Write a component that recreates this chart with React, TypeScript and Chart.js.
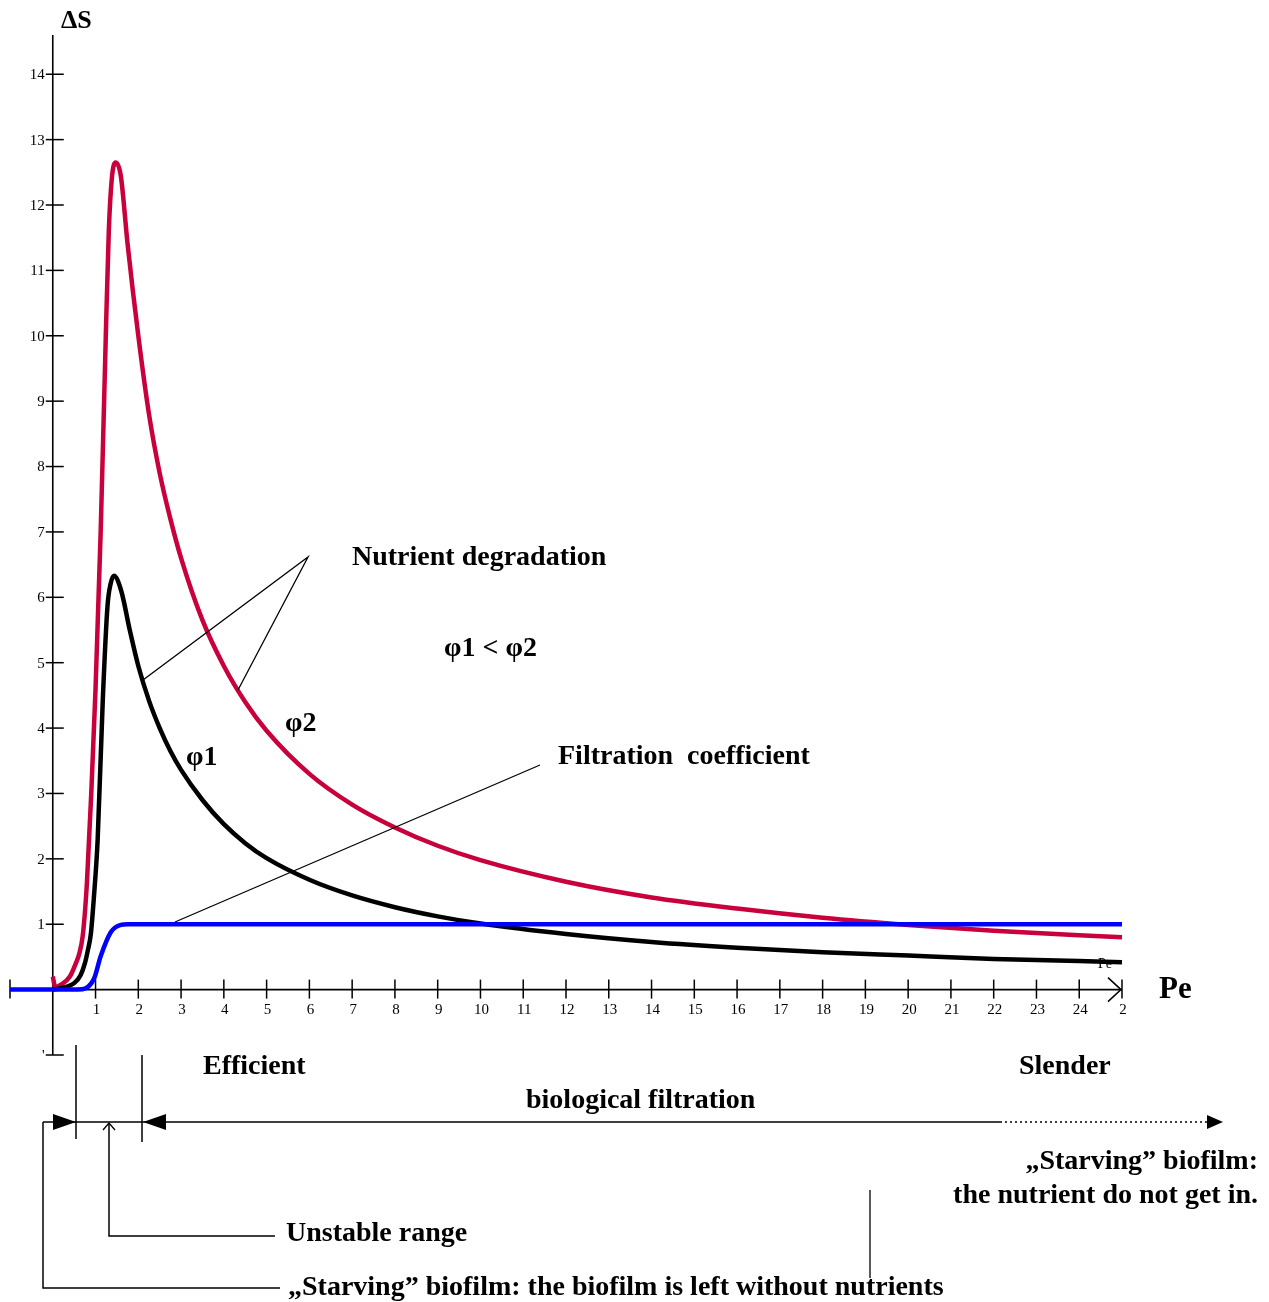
import { useEffect, useRef } from 'react';
import { Chart, registerables } from 'chart.js';

Chart.register(...registerables);

// φ2 curve (red)
const redPe = [0, 0.06, 0.2, 0.4, 0.55, 0.62, 0.7, 0.76, 0.8, 0.9, 1.0, 1.12, 1.24, 1.31, 1.38, 1.47, 1.59, 1.75, 2.0, 2.25, 2.5, 2.75, 3.0, 3.5, 4.0, 4.5, 5.0, 6.0, 7.0, 8.0, 9.0, 10.0, 12.0, 14.0, 16.0, 18.0, 20.0, 22.0, 25.0];
const redDS = [0.2, 0.04, 0.08, 0.2, 0.42, 0.55, 0.82, 1.25, 1.65, 3.0, 4.6, 7.0, 10.0, 11.6, 12.4, 12.65, 12.45, 11.4, 10.0, 8.8, 7.9, 7.2, 6.6, 5.65, 4.95, 4.4, 3.96, 3.3, 2.83, 2.48, 2.2, 1.98, 1.65, 1.41, 1.24, 1.1, 0.99, 0.9, 0.8];

// φ1 curve (black)
const blackPe = [0, 0.35, 0.5, 0.65, 0.75, 0.82, 0.89, 0.96, 1.05, 1.17, 1.28, 1.35, 1.43, 1.6, 1.8, 2.0, 2.25, 2.5, 2.75, 3.0, 3.5, 4.0, 4.5, 5.0, 6.0, 7.0, 8.0, 9.0, 10.0, 12.0, 14.0, 16.0, 18.0, 20.0, 22.0, 25.0];
const blackDS = [0, 0.05, 0.1, 0.22, 0.4, 0.6, 0.85, 1.4, 2.3, 4.44, 5.87, 6.2, 6.33, 6.1, 5.5, 4.95, 4.42, 4.0, 3.65, 3.36, 2.9, 2.53, 2.24, 2.01, 1.68, 1.44, 1.26, 1.12, 1.01, 0.85, 0.73, 0.64, 0.57, 0.52, 0.47, 0.42];

// Filtration coefficient (blue)
const bluePe = [-1, 0.58, 0.96, 1.12, 1.36, 1.59, 1.75, 25];
const blueDS = [0, 0, 0.16, 0.51, 0.88, 0.99, 1.0, 1.0];

// axis ticks
const xTickValues = [-1, 1, 2, 3, 4, 5, 6, 7, 8, 9, 10, 11, 12, 13, 14, 15, 16, 17, 18, 19, 20, 21, 22, 23, 24, 25];
const xTickLabels = ['', '1', '2', '3', '4', '5', '6', '7', '8', '9', '10', '11', '12', '13', '14', '15', '16', '17', '18', '19', '20', '21', '22', '23', '24', '2'];
const yTickValues = [-1, 1, 2, 3, 4, 5, 6, 7, 8, 9, 10, 11, 12, 13, 14];
const yTickLabels = ["'", '1', '2', '3', '4', '5', '6', '7', '8', '9', '10', '11', '12', '13', '14'];

const SERIF = '"Liberation Serif", "Times New Roman", serif';

function pts(xs: number[], ys: number[]) {
  return xs.map((x, i) => ({ x, y: ys[i] }));
}

function text(ctx: CanvasRenderingContext2D, s: string, x: number, y: number, size: number, align: CanvasTextAlign = 'left', bold = true) {
  ctx.save();
  ctx.font = `${bold ? 'bold ' : ''}${size}px ${SERIF}`;
  ctx.fillStyle = '#000';
  ctx.textAlign = align;
  ctx.textBaseline = 'middle';
  ctx.fillText(s, x, y);
  ctx.restore();
}

function line(ctx: CanvasRenderingContext2D, p: number[][], w = 1.5, dash: number[] = []) {
  ctx.save();
  ctx.strokeStyle = '#000';
  ctx.lineWidth = w;
  ctx.setLineDash(dash);
  ctx.beginPath();
  ctx.moveTo(p[0][0], p[0][1]);
  for (let i = 1; i < p.length; i++) ctx.lineTo(p[i][0], p[i][1]);
  ctx.stroke();
  ctx.restore();
}

function tri(ctx: CanvasRenderingContext2D, p: number[][]) {
  ctx.save();
  ctx.fillStyle = '#000';
  ctx.beginPath();
  ctx.moveTo(p[0][0], p[0][1]);
  ctx.lineTo(p[1][0], p[1][1]);
  ctx.lineTo(p[2][0], p[2][1]);
  ctx.closePath();
  ctx.fill();
  ctx.restore();
}

const axesPlugin = {
  id: 'axesPlugin',
  beforeDatasetsDraw(chart: any) {
    const ctx = chart.ctx as CanvasRenderingContext2D;
    const xs = chart.scales.x;
    const ys = chart.scales.y;
    const x0 = xs.getPixelForValue(0);
    const y0 = ys.getPixelForValue(0);
    const left = xs.getPixelForValue(xs.min);
    const right = xs.getPixelForValue(xs.max);
    const top = ys.getPixelForValue(ys.max);
    const bottom = ys.getPixelForValue(ys.min);
    // y axis
    line(ctx, [[x0, top], [x0, bottom]], 1.6);
    yTickValues.forEach((v, i) => {
      const py = ys.getPixelForValue(v);
      line(ctx, [[x0 - 7, py], [x0 + 11, py]], 1.5);
      text(ctx, yTickLabels[i], x0 - 8, py + 1, 15, 'right', false);
    });
    // x axis
    line(ctx, [[left, y0], [right, y0]], 1.6);
    xTickValues.forEach((v, i) => {
      const px = xs.getPixelForValue(v);
      line(ctx, [[px, y0 - 10], [px, y0 + 9]], 1.5);
      text(ctx, xTickLabels[i], px + 1, y0 + 20, 15, 'center', false);
    });
    // open arrow at right end
    line(ctx, [[right - 14, y0 - 12], [right - 1, y0], [right - 14, y0 + 12]], 1.5);
    text(ctx, 'Pe', right - 24, y0 - 25, 14, 'left', false);
  },
  afterDatasetsDraw(chart: any) {
    const ctx = chart.ctx as CanvasRenderingContext2D;
    // leader lines
    line(ctx, [[143, 680], [308, 557], [238, 690]], 1.3);
    line(ctx, [[540, 765], [175, 922]], 1.3);

    text(ctx, 'ΔS', 61, 21, 26);
    text(ctx, 'Pe', 1159, 990, 31);
    text(ctx, 'Nutrient degradation', 352, 558, 28);
    text(ctx, 'φ1 < φ2', 444, 649, 28);
    text(ctx, 'φ2', 285, 724, 28);
    text(ctx, 'φ1', 186, 758, 28);
    text(ctx, 'Filtration  coefficient', 558, 757, 28);

    // region annotations below axis
    text(ctx, 'Efficient', 203, 1067, 28);
    text(ctx, 'Slender', 1019, 1067, 28);
    text(ctx, 'biological filtration', 526, 1101, 28);
    text(ctx, '„Starving” biofilm:', 1258, 1162, 28, 'right');
    text(ctx, 'the nutrient do not get in.', 1258, 1196, 28, 'right');
    text(ctx, 'Unstable range', 286, 1234, 28);
    text(ctx, '„Starving” biofilm: the biofilm is left without nutrients', 288, 1288, 28);

    // main range line
    line(ctx, [[43, 1122], [1000, 1122]], 1.5);
    line(ctx, [[1000, 1122], [1210, 1122]], 1.5, [2, 3]);
    tri(ctx, [[1223, 1122], [1207, 1115], [1207, 1129]]);
    tri(ctx, [[76, 1122], [53, 1114], [53, 1130]]);
    tri(ctx, [[143, 1122], [166, 1114], [166, 1130]]);
    line(ctx, [[76, 1045], [76, 1139]], 1.5);
    line(ctx, [[142, 1055], [142, 1142]], 1.5);
    line(ctx, [[43, 1122], [43, 1288], [280, 1288]], 1.5);
    line(ctx, [[103, 1130], [109, 1123], [115, 1130]], 1.3);
    line(ctx, [[109, 1123], [109, 1236], [275, 1236]], 1.5);
    line(ctx, [[870, 1190], [870, 1278]], 1.3);
  },
};

export default function App() {
  const ref = useRef<HTMLCanvasElement>(null);
  useEffect(() => {
    if (!ref.current) return;
    const chart = new Chart(ref.current, {
      type: 'line',
      data: {
        datasets: [
          {
            label: 'Filtration coefficient',
            data: pts(bluePe, blueDS),
            borderColor: '#0000ff',
            borderWidth: 4.5,
            pointRadius: 0,
            cubicInterpolationMode: 'monotone',
            order: 0,
            clip: false,
          },
          {
            label: 'φ1',
            data: pts(blackPe, blackDS),
            borderColor: '#000000',
            borderWidth: 4.5,
            pointRadius: 0,
            cubicInterpolationMode: 'monotone',
            order: 1,
            clip: false,
          },
          {
            label: 'φ2',
            data: pts(redPe, redDS),
            borderColor: '#c8003c',
            borderWidth: 4.5,
            pointRadius: 0,
            cubicInterpolationMode: 'monotone',
            order: 2,
            clip: false,
          },
        ],
      },
      options: {
        animation: false,
        responsive: false,
        devicePixelRatio: 1,
        layout: { padding: { left: 10, right: 147, top: 35, bottom: 247 } },
        plugins: { legend: { display: false }, tooltip: { enabled: false } },
        events: [],
        scales: {
          x: { type: 'linear', min: -1, max: 25, display: false },
          y: { type: 'linear', min: -1, max: 14.6, display: false },
        },
      },
      plugins: [axesPlugin],
    } as any);
    return () => chart.destroy();
  }, []);
  return (
    <div style={{ position: 'absolute', left: 0, top: 0, width: 1269, height: 1302, background: '#fff' }}>
      <canvas ref={ref} width={1269} height={1302} style={{ display: 'block' }} />
    </div>
  );
}
